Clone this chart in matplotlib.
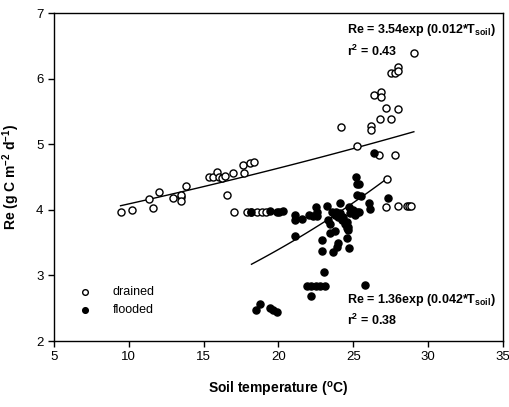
import numpy as np
import matplotlib
matplotlib.use("Agg")
from matplotlib import pyplot as plt

plt.rcParams['font.family'] = ['Liberation Sans', 'DejaVu Sans']

# drained (open circles)
drained_t = [9.45, 10.21, 11.59, 11.35, 12.04, 12.93, 13.48, 13.5, 13.48, 13.82,
             15.37, 15.64, 15.87, 16.0, 16.2, 16.4, 16.54, 16.96, 17.63, 17.67,
             18.09, 18.38, 17.02, 17.87, 18.2, 18.54, 18.87, 19.2,
             29.05, 27.49, 27.8, 28.0, 28.0, 26.38, 26.85, 26.85, 27.18, 27.96,
             26.8, 27.49, 24.17, 26.18, 26.18, 25.26, 26.73, 27.82, 27.27,
             27.22, 28.0, 28.56, 28.73, 28.89]
drained_re = [3.97, 4.00, 4.03, 4.16, 4.27, 4.18, 4.19, 4.22, 4.13, 4.36,
              4.50, 4.50, 4.58, 4.50, 4.48, 4.51, 4.23, 4.56, 4.69, 4.56,
              4.72, 4.73, 3.96, 3.96, 3.96, 3.96, 3.96, 3.96,
              6.39, 6.09, 6.08, 6.17, 6.12, 5.75, 5.79, 5.72, 5.55, 5.54,
              5.39, 5.38, 5.27, 5.28, 5.21, 4.97, 4.84, 4.83, 4.47,
              4.05, 4.06, 4.06, 4.06, 4.06]

# flooded (filled circles)
flooded_t = [18.16, 19.43, 19.88, 20.05, 20.28, 21.1, 21.1, 21.6, 22.05, 22.28,
             22.5, 22.55, 22.55, 23.22, 23.6, 23.77, 23.88, 23.99, 24.1, 24.22,
             23.33, 23.44, 24.73, 24.78, 25.0, 25.1, 25.26, 25.39, 24.33, 24.55,
             24.66, 24.44, 24.1, 25.17, 25.26, 25.39, 25.22, 25.5, 26.06, 26.15,
             26.38, 27.33, 21.1, 23.48, 23.77, 24.55, 24.66, 22.88, 24.0, 23.9,
             23.66, 24.55, 24.73, 22.92, 23.04, 21.88, 22.2, 22.5, 22.8, 23.1,
             22.2, 25.78, 18.49, 18.76, 19.43, 19.65, 19.88]
flooded_re = [3.96, 3.99, 3.97, 3.97, 3.99, 3.92, 3.84, 3.86, 3.92, 3.90,
              4.04, 3.97, 3.91, 4.06, 3.96, 3.92, 3.97, 3.89, 3.95, 3.84,
              3.84, 3.79, 4.05, 3.95, 4.00, 3.92, 3.96, 3.97, 3.89, 3.82,
              3.74, 3.79, 4.11, 4.50, 4.40, 4.39, 4.23, 4.21, 4.11, 4.01,
              4.86, 4.18, 3.60, 3.64, 3.67, 3.73, 3.70, 3.54, 3.50, 3.44,
              3.35, 3.57, 3.42, 3.38, 3.06, 2.84, 2.84, 2.84, 2.84, 2.84,
              2.68, 2.85, 2.48, 2.56, 2.51, 2.47, 2.45]

# fitted curves as drawn (a, b, t range)
drained_fit = (3.61, 0.0125, 9.45, 29.05)
flooded_fit = (1.585, 0.0381, 18.2, 27.22)

fig = plt.figure(figsize=(5.09, 4.07), dpi=100)
ax = fig.add_axes([0.106, 0.162, 0.882, 0.806])

ax.scatter(drained_t, drained_re, s=26, facecolors='white', edgecolors='black',
           linewidths=1.0, zorder=3, label='drained')
ax.scatter(flooded_t, flooded_re, s=26, facecolors='black', edgecolors='black',
           linewidths=1.0, zorder=3, label='flooded')

for a, b, t0, t1 in (drained_fit, flooded_fit):
    t = np.linspace(t0, t1, 100)
    ax.plot(t, a * np.exp(b * t), color='black', lw=1.0, zorder=2)

ax.set_xlim(5, 35)
ax.set_ylim(2, 7)
ax.set_xticks(range(5, 36, 5))
ax.set_yticks(range(2, 8))
ax.tick_params(direction='out', length=4, width=1, labelsize=9.5, top=False, right=False)
for sp in ax.spines.values():
    sp.set_linewidth(1.0)

ax.set_xlabel('Soil temperature ($\\mathregular{^o}$C)', fontsize=10, fontweight='bold', labelpad=12)
ax.set_ylabel('Re (g C m$\\mathregular{^{-2}}$ d$\\mathregular{^{-1}}$)', fontsize=10,
              fontweight='bold', labelpad=10)

ax.text(24.6, 6.74, 'Re = 3.54exp (0.012*T$\\mathregular{_{soil}}$)', fontsize=9,
        fontweight='bold', va='center')
ax.text(24.6, 6.41, 'r$\\mathregular{^2}$ = 0.43', fontsize=9, fontweight='bold', va='center')
ax.text(24.6, 2.63, 'Re = 1.36exp (0.042*T$\\mathregular{_{soil}}$)', fontsize=9,
        fontweight='bold', va='center')
ax.text(24.6, 2.31, 'r$\\mathregular{^2}$ = 0.38', fontsize=9, fontweight='bold', va='center')

ax.legend(loc='center left', bbox_to_anchor=(0.016, 0.122), frameon=False, fontsize=9,
          handletextpad=1.2, labelspacing=0.5, scatterpoints=1, markerscale=0.8,
          borderaxespad=0.5)

fig.savefig('out.png', dpi=100)
